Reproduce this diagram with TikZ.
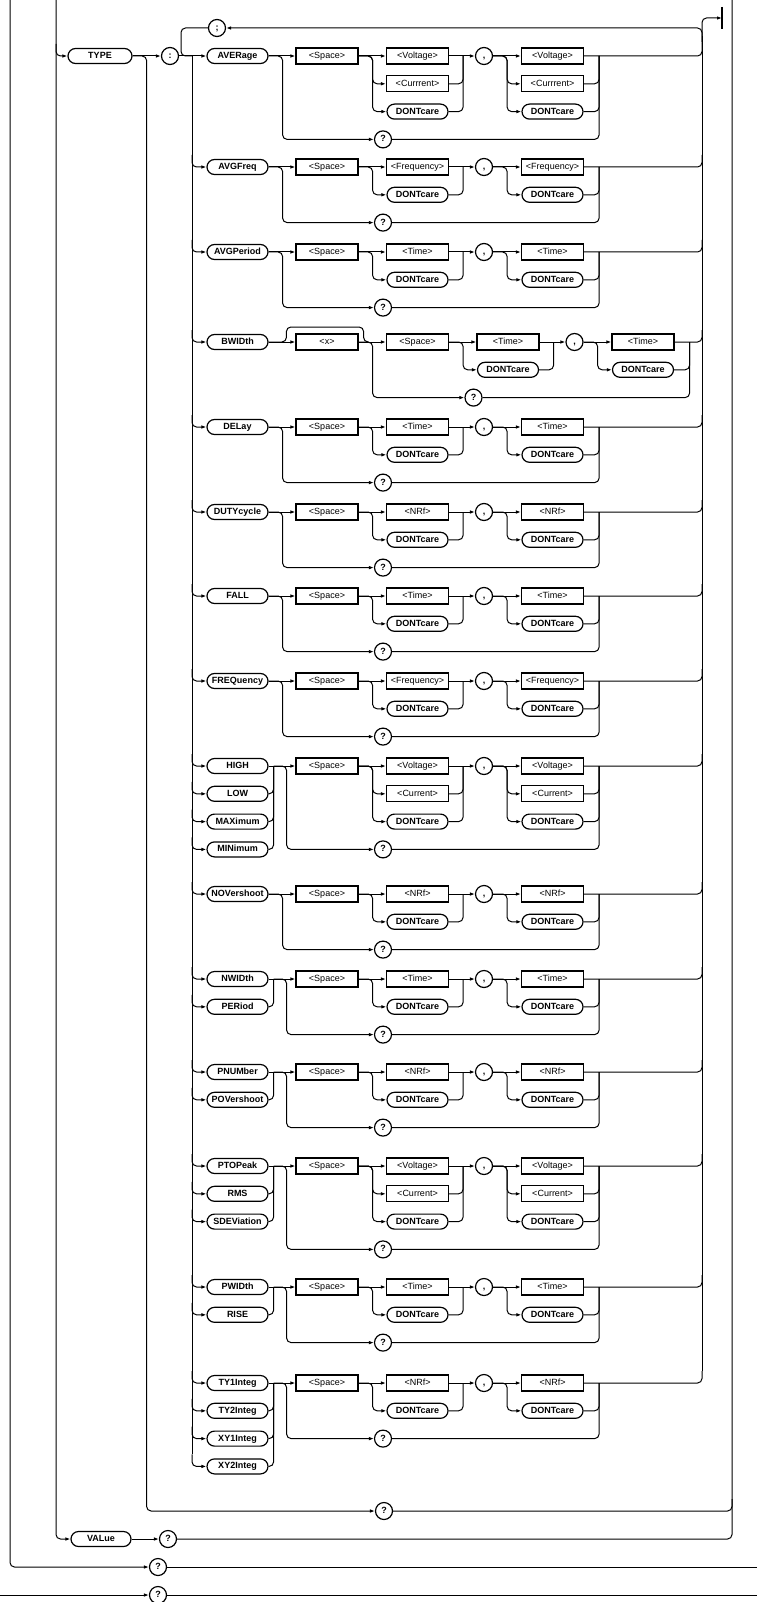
\documentclass[tikz,border=0pt]{standalone}
\usepackage{fontspec}
\setmainfont{Liberation Sans}
\usetikzlibrary{arrows.meta}

\tikzset{
  rail/.style={line width=1pt,rounded corners=4.5pt},
  feed/.style={rail,-{Latex[length=5pt,width=3.6pt]}},
  keyword/.style={draw,line width=1.2pt,rounded corners=7.5pt,minimum width=61pt,
    minimum height=15pt,inner sep=0pt,text height=6.6pt,text depth=1.6pt,
    font=\fontsize{9}{10}\selectfont\bfseries},
  argbox/.style={draw,line width=1.2pt,minimum width=62pt,minimum height=16pt,
    inner sep=0pt,text height=6.6pt,text depth=1.6pt,
    font=\fontsize{9}{10}\selectfont},
  token/.style={draw,circle,line width=1.2pt,minimum size=17pt,inner sep=0pt,
    text height=6.6pt,text depth=1.6pt,font=\fontsize{9}{10}\selectfont\bfseries},
}

\begin{document}
\begin{tikzpicture}[x=1pt,y=-1pt]

\useasboundingbox (0,0) rectangle (757,1602);

% Rails
\coordinate (railA) at (10,0);
\coordinate (railB) at (56,0);
\coordinate (railD) at (732,0);
\coordinate (railL) at (192,56);
\coordinate (railR) at (702,28);
\coordinate (edge) at (757,0);
\coordinate (endbar) at (722,18);

% TYPE and VALue
\node[keyword,minimum width=64pt] (type)
at (100,56)
{TYPE};

\node[token] (colon)
at (170,56)
{:};

\node[token] (semi)
at (217,28)
{;};

\node[keyword,minimum width=60pt] (value)
at (101,1539)
{VALue};

\node[token] (qvalue) at (168,1539) {?};
\node[token] (qtype) at (384,1511) {?};
\node[token] (qouter) at (158,1567) {?};
\node[token] (qlast) at (158,1595) {?};

\draw[feed] (railB) |- (value);
\draw[feed] ([yshift=12pt]railB |- type.west) |- (type);
\draw[feed] (type) -- (colon);
\draw[feed] (type.east) -- ++(14,0) |- (qtype);
\draw[rail] (qtype) -| ([yshift=12pt]railD |- qtype);
\draw[feed] (value) -- (qvalue);
\draw[rail] (qvalue) -| (railD);
\draw[feed] (railA) |- (qouter);
\draw[rail] (qouter) -- (qouter -| edge);
\draw[feed] (0,1595) -- (qlast);
\draw[rail] (qlast) -- (qlast -| edge);

% Repeat loop and end
\draw[rail] (semi) -| ([xshift=-11pt]railL) -- (railL);
\draw[feed] ([yshift=-16pt]railR) |- (semi);
\draw[feed] ([yshift=-14pt]railR) |- (endbar);
\draw[line width=1.3pt]
([yshift=11pt]endbar)
--
([yshift=-11pt]endbar);

% Rows
\foreach \row/\y/\nk/\kws/\opts/\nop/\xo in {
  1/56/1/{AVERage}/{<Voltage>,<Currrent>}/3/0,
  2/167/1/{AVGFreq}/{<Frequency>}/2/0,
  3/252/1/{AVGPeriod}/{<Time>}/2/0,
  4/342/1/{BWIDth}/{<Time>}/2/90.5,
  5/427/1/{DELay}/{<Time>}/2/0,
  6/512/1/{DUTYcycle}/{<NRf>}/2/0,
  7/596/1/{FALL}/{<Time>}/2/0,
  8/681/1/{FREQuency}/{<Frequency>}/2/0,
  9/766/4/{HIGH,LOW,MAXimum,MINimum}/{<Voltage>,<Current>}/3/0,
  10/894/1/{NOVershoot}/{<NRf>}/2/0,
  11/979/2/{NWIDth,PERiod}/{<Time>}/2/0,
  12/1072/2/{PNUMber,POVershoot}/{<NRf>}/2/0,
  13/1166/3/{PTOPeak,RMS,SDEViation}/{<Voltage>,<Current>}/3/0,
  14/1287/2/{PWIDth,RISE}/{<Time>}/2/0,
  15/1383/4/{TY1Integ,TY2Integ,XY1Integ,XY2Integ}/{<NRf>}/2/0}
{
    % keywords
    \foreach \kw [count=\j] in \kws
    {
        \node[keyword] (k\row-\j) at (237.5,{\y+(\j-1)*27.8}) {\kw};
        \ifnum\row>1
            \draw[feed] ([yshift=12pt]railL |- k\row-\j.west) |- (k\row-\j);
        \fi
        \ifnum\j>1
            \draw[rail] (k\row-\j.east) -| ([xshift=5pt]k\row-1.east);
        \fi
    }

    % parameters
    \node[argbox] (s\row) at ({327+\xo},\y) {<Space>};
    \node[token] (c\row) at ({484+\xo},\y) {,};
    \node[token] (q\row) at ({383+\xo},{\y+\nop*27.8}) {?};
    \foreach \lbl [count=\j] in \opts
    {
        \node[argbox] (a\row-\j) at ({417.5+\xo},{\y+(\j-1)*27.8}) {\lbl};
        \node[argbox] (b\row-\j) at ({552.5+\xo},{\y+(\j-1)*27.8}) {\lbl};
    }
    \node[keyword] (a\row-\nop) at ({417.5+\xo},{\y+(\nop-1)*27.8}) {DONTcare};
    \node[keyword] (b\row-\nop) at ({552.5+\xo},{\y+(\nop-1)*27.8}) {DONTcare};

    \draw[feed] (s\row) -- (a\row-1);
    \draw[feed] (a\row-1) -- (c\row);
    \draw[feed] (c\row) -- (b\row-1);
    \foreach \j in {2,...,\nop}
    {
        \draw[feed] (s\row.east) -- ++(14,0) |- (a\row-\j);
        \draw[rail] (a\row-\j.east) -| ([xshift=14pt]a\row-1.east);
        \draw[feed] (c\row.east) -- ++(14,0) |- (b\row-\j);
        \draw[rail] (b\row-\j.east) -| ([xshift=15pt]b\row-1.east);
    }
    \draw[rail] (q\row) -| ([xshift=15pt]b\row-1.east);
    \draw[rail] (b\row-1.east) -| ([yshift=12pt]railR |- b\row-1.east);

    % lead-in
    \ifnum\row=4 \else
        \draw[feed] (k\row-1) -- (s\row);
        \ifnum\nk=1
            \draw[feed] (k\row-1.east) -- ++(14,0) |- (q\row);
        \else
            \draw[feed] ([xshift=5pt]k\row-1.east) -- ++(13,0) |- (q\row);
        \fi
    \fi
}

% BWIDth with optional <x>
\node[argbox] (x4)
at (327,342)
{<x>};

\draw[feed] (k4-1) -- (x4);
\draw[feed] (x4) -- (s4);
\draw[feed] (x4.east) -- ++(14,0) |- (q4);
\draw[rail]
(k4-1.east)
-|
([xshift=-9pt,yshift=15pt]x4.west)
-|
([xshift=5pt]x4.east)
--
([xshift=10pt]x4.east);

% Main rails
\draw[feed] (colon) -- (k1-1);
\draw[rail] (railL) -- ([yshift=12pt]railL |- k15-4.west);
\draw[rail] ([yshift=-8pt]railR) -- ([yshift=12pt]railR |- b15-1.east);

\end{tikzpicture}
\end{document}
